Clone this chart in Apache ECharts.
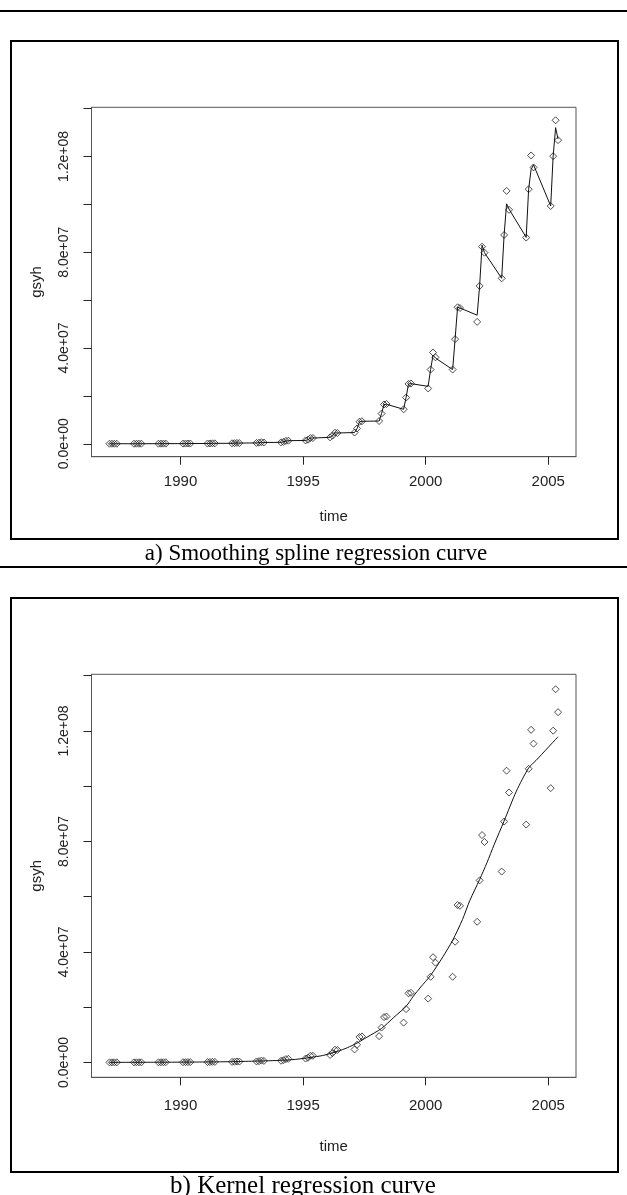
<!DOCTYPE html>
<html>
<head>
<meta charset="utf-8">
<script src="https://cdn.jsdelivr.net/npm/echarts@6/dist/echarts.min.js"></script>
<style>
html,body{margin:0;padding:0;background:#fff;}
#chart{width:627px;height:1195px;}
</style>
</head>
<body>
<div id="chart"></div>
<script>
// quarterly time points (year + quarter/10)
const time = [
1987.1,1987.2,1987.3,1987.4, 1988.1,1988.2,1988.3,1988.4, 1989.1,1989.2,1989.3,1989.4,
1990.1,1990.2,1990.3,1990.4, 1991.1,1991.2,1991.3,1991.4, 1992.1,1992.2,1992.3,1992.4,
1993.1,1993.2,1993.3,1993.4, 1994.1,1994.2,1994.3,1994.4, 1995.1,1995.2,1995.3,1995.4,
1996.1,1996.2,1996.3,1996.4, 1997.1,1997.2,1997.3,1997.4, 1998.1,1998.2,1998.3,1998.4,
1999.1,1999.2,1999.3,1999.4, 2000.1,2000.2,2000.3,2000.4, 2001.1,2001.2,2001.3,2001.4,
2002.1,2002.2,2002.3,2002.4, 2003.1,2003.2,2003.3,2003.4, 2004.1,2004.2,2004.3,2004.4,
2005.1,2005.2,2005.3,2005.4
];
// observed gsyh
const gsyh = [
1.3e4,1.7e4,2.3e4,2.2e4, 2.2e4,3.0e4,4.0e4,3.8e4, 4.0e4,5.0e4,7.0e4,7.0e4,
7.0e4,9.0e4,1.2e5,1.1e5, 1.1e5,1.4e5,2.0e5,1.8e5, 2.0e5,2.5e5,3.5e5,3.0e5,
3.5e5,4.5e5,6.5e5,5.5e5, 6.0e5,8.0e5,1.2e6,1.3e6, 1.4e6,1.7e6,2.4e6,2.4e6,
2.7e6,3.4e6,4.6e6,4.5e6, 4.7e6,6.4e6,9.2e6,9.4e6, 9.5e6,1.26e7,1.64e7,1.66e7,
1.44e7,1.93e7,2.50e7,2.52e7, 2.31e7,3.10e7,3.81e7,3.61e7, 3.10e7,4.37e7,5.70e7,5.67e7,
5.09e7,6.59e7,8.23e7,7.98e7, 6.91e7,8.72e7,10.56e7,9.77e7, 8.61e7,10.63e7,12.04e7,11.54e7,
9.93e7,12.01e7,13.51e7,12.68e7
];
// smoothing spline fitted values
const splineFit = [
1.3e4,1.7e4,2.3e4,2.2e4, 2.2e4,3.0e4,4.0e4,3.8e4, 4.0e4,5.0e4,7.0e4,7.0e4,
7.0e4,9.0e4,1.2e5,1.1e5, 1.1e5,1.4e5,2.0e5,1.8e5, 2.0e5,2.5e5,3.5e5,3.0e5,
3.5e5,4.5e5,6.5e5,5.5e5, 6.0e5,8.0e5,1.2e6,1.3e6, 1.4e6,1.7e6,2.4e6,2.4e6,
2.7e6,3.4e6,4.6e6,4.5e6, 4.7e6,6.4e6,9.2e6,9.4e6, 9.5e6,1.26e7,1.64e7,1.65e7,
1.44e7,1.93e7,2.50e7,2.51e7, 2.40e7,3.10e7,3.70e7,3.58e7, 3.10e7,4.37e7,5.70e7,5.67e7,
5.37e7,6.59e7,8.29e7,7.98e7, 6.91e7,8.72e7,10.02e7,9.80e7, 8.62e7,10.63e7,11.45e7,11.65e7,
9.93e7,12.01e7,13.20e7,12.72e7
];
// kernel regression curve
const kernelTime = [1987.1,1988.0,1989.0,1990.0,1991.0,1992.0,1993.0,1993.6,1994.2,1994.7,
1995.3,1995.8,1996.4,1996.8,1997.2,1997.6,1998.2,1998.7,1999.2,1999.5,1999.8,2000.2,2000.7,
2001.1,2001.5,2001.8,2002.2,2002.5,2002.8,2003.2,2003.7,2004.2,2004.5,2005.4];
const kernelFit = [2e4,3e4,6e4,1e5,1.6e5,2.6e5,4.5e5,6e5,8e5,1.1e6,
1.8e6,2.5e6,4.0e6,5.3e6,7.0e6,9.1e6,1.23e7,1.63e7,2.03e7,2.40e7,2.73e7,3.15e7,3.82e7,
4.42e7,5.17e7,5.86e7,6.62e7,7.23e7,7.90e7,8.74e7,9.82e7,10.66e7,10.93e7,11.79e7];

const xTicks = [1990, 1995, 2000, 2005];
const yTicks = [0, 2e7, 4e7, 6e7, 8e7, 1e8, 1.2e8, 1.4e8];
const yLabelValues = [0, 4e7, 8e7, 1.2e8];
const captions = ['a) Smoothing spline regression curve', 'b) Kernel regression curve'];

const tMin = Math.min(...time), tMax = Math.max(...time);
const xMin = tMin - 0.04 * (tMax - tMin), xMax = tMax + 0.04 * (tMax - tMin);
const gMin = Math.min(...gsyh), gMax = Math.max(...gsyh);
const yMin = gMin - 0.04 * (gMax - gMin), yMax = gMax + 0.04 * (gMax - gMin);

function sci(v) {
  const parts = v.toExponential(1).split('e');
  const e = parseInt(parts[1], 10);
  const ae = Math.abs(e);
  return parts[0] + 'e' + (e < 0 ? '-' : '+') + (ae < 10 ? '0' : '') + ae;
}

const FONT = "'Liberation Sans', Arial, sans-serif";
const SERIF = "'Liberation Serif', 'Times New Roman', serif";
const TXT = '#222';

function xAxis(gi, labelMargin, nameGap) {
  return {
    type: 'value', gridIndex: gi, min: xMin, max: xMax, position: 'bottom',
    axisLine: { show: true, onZero: false, lineStyle: { color: '#555', width: 1 } }, splitLine: { show: false },
    axisTick: { show: true, inside: false, customValues: xTicks, length: 8, lineStyle: { color: '#222', width: 1 } },
    axisLabel: { customValues: xTicks, margin: labelMargin, fontSize: 15, fontFamily: FONT, color: TXT,
      formatter: v => String(Math.round(v)) },
    name: 'time', nameLocation: 'middle', nameGap: nameGap,
    nameTextStyle: { fontSize: 15, fontFamily: FONT, color: TXT }
  };
}
function yAxis(gi, labelMargin, nameGap) {
  return {
    type: 'value', gridIndex: gi, min: yMin, max: yMax, position: 'left',
    axisLine: { show: true, onZero: false, lineStyle: { color: '#555', width: 1 } }, splitLine: { show: false },
    axisTick: { show: true, inside: false, customValues: yTicks, length: 8, lineStyle: { color: '#222', width: 1 } },
    axisLabel: { customValues: yLabelValues, rotate: 90, margin: labelMargin, fontSize: 14,
      fontFamily: FONT, color: TXT, formatter: sci },
    name: 'gsyh', nameLocation: 'middle', nameGap: nameGap,
    nameTextStyle: { fontSize: 15, fontFamily: FONT, color: TXT }
  };
}

const pts = time.map((t, i) => [t, gsyh[i]]);
const splinePts = time.map((t, i) => [t, splineFit[i]]);
const kernelPts = kernelTime.map((t, i) => [t, kernelFit[i]]);

const scatterStyle = {
  type: 'scatter', symbol: 'diamond', symbolSize: [7, 7],
  itemStyle: { color: 'rgba(255,255,255,0)', borderColor: '#222', borderWidth: 1 },
  emphasis: { disabled: true }, silent: true
};

const chart = echarts.init(document.getElementById('chart'), null, { renderer: 'canvas' });
chart.setOption({
  animation: false,
  backgroundColor: '#fff',
  grid: [
    { left: 91.5, top: 107.3, width: 484.5, height: 349.4, show: true, borderColor: '#555', borderWidth: 1, backgroundColor: 'rgba(0,0,0,0)' },
    { left: 91.5, top: 674.3, width: 484.5, height: 403, show: true, borderColor: '#555', borderWidth: 1, backgroundColor: 'rgba(0,0,0,0)' }
  ],
  xAxis: [xAxis(0, 18, 53), xAxis(1, 21, 62)],
  yAxis: [yAxis(0, 20, 47), yAxis(1, 20, 47)],
  series: [
    Object.assign({}, scatterStyle, { xAxisIndex: 0, yAxisIndex: 0, data: pts }),
    { type: 'line', xAxisIndex: 0, yAxisIndex: 0, data: splinePts, showSymbol: false, silent: true,
      lineStyle: { color: '#111', width: 1 } },
    Object.assign({}, scatterStyle, { xAxisIndex: 1, yAxisIndex: 1, data: pts }),
    { type: 'line', xAxisIndex: 1, yAxisIndex: 1, data: kernelPts, showSymbol: false, smooth: 0.25, silent: true,
      lineStyle: { color: '#111', width: 1 } }
  ],
  graphic: [
    { type: 'line', shape: { x1: 0, y1: 11, x2: 627, y2: 11 }, style: { stroke: '#000', lineWidth: 2 } },
    { type: 'rect', shape: { x: 11, y: 41, width: 607, height: 498 }, style: { fill: 'none', stroke: '#000', lineWidth: 2 } },
    { type: 'text', style: { text: captions[0], x: 316, y: 554, fontSize: 23, fontFamily: SERIF, fill: '#000',
        textAlign: 'center', textVerticalAlign: 'middle', align: 'center', verticalAlign: 'middle' } },
    { type: 'line', shape: { x1: 0, y1: 567, x2: 627, y2: 567 }, style: { stroke: '#000', lineWidth: 2 } },
    { type: 'rect', shape: { x: 11, y: 598, width: 607, height: 574 }, style: { fill: 'none', stroke: '#000', lineWidth: 2 } },
    { type: 'text', style: { text: captions[1], x: 303, y: 1186, fontSize: 25, fontFamily: SERIF, fill: '#000',
        textAlign: 'center', textVerticalAlign: 'middle', align: 'center', verticalAlign: 'middle' } }
  ]
});
</script>
</body>
</html>
